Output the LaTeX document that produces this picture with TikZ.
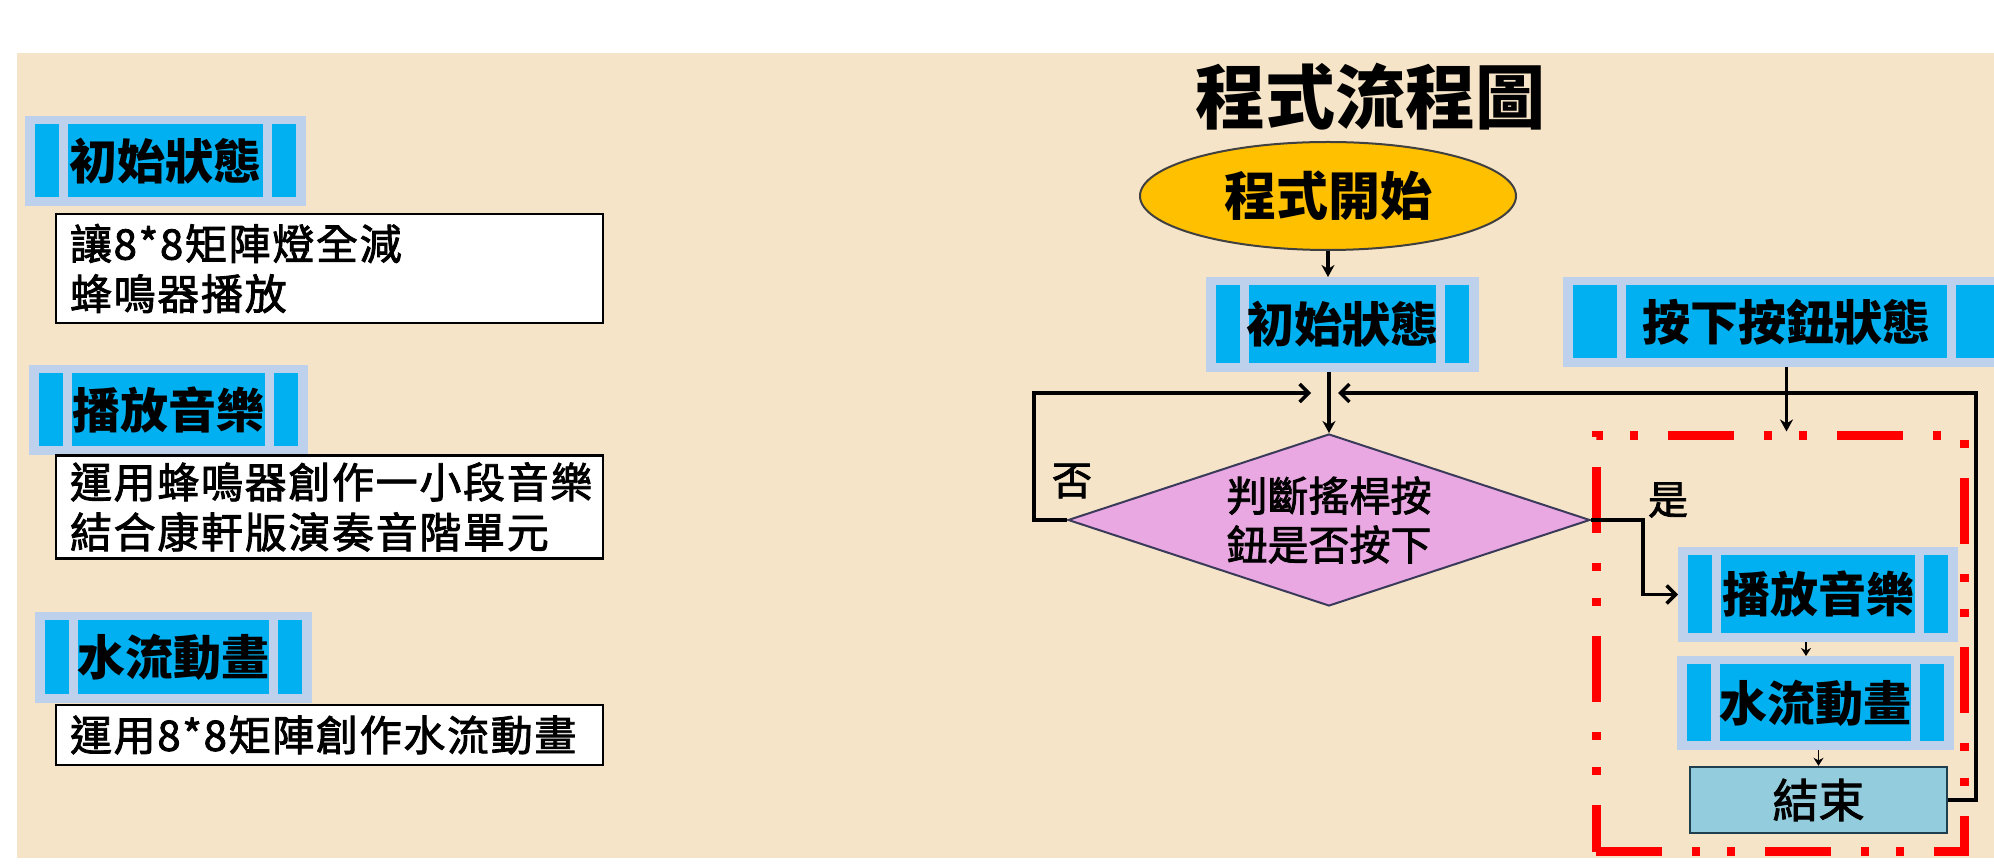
\documentclass[tikz,border=0pt]{standalone}
\usepackage{fontspec}
\setmainfont{Noto Sans CJK TC}
\newfontfamily\medfont{Noto Sans CJK TC}[FakeBold=2]
\newfontfamily\boxfont{Noto Sans CJK TC}[FakeBold=2,LetterSpace=4]
\usetikzlibrary{shapes.geometric,arrows.meta}
\definecolor{wood}{HTML}{F6E4C8}
\definecolor{hdrlight}{HTML}{BDD0EC}
\definecolor{hdrcyan}{HTML}{00B0F0}
\definecolor{diamondfill}{HTML}{E9A8E1}
\definecolor{diamondline}{HTML}{3A3A5A}
\definecolor{startfill}{HTML}{FFC000}
\definecolor{endfill}{HTML}{93CDDD}
\definecolor{endline}{HTML}{1F3F4F}
\definecolor{grpred}{HTML}{FF0000}
\begin{document}
\begin{tikzpicture}[x=0.5pt,y=-0.5pt,
  hdr/.style={rectangle, inner sep=0pt, outer sep=0pt, fill=hdrlight,
    font=\fontsize{24pt}{28pt}\selectfont\bfseries,
    path picture={
      \fill[hdrcyan] ([xshift=5pt,yshift=4.5pt]path picture bounding box.south west) rectangle ([xshift=5pt+#1,yshift=-4pt]path picture bounding box.north west);
      \fill[hdrcyan] ([xshift=9.5pt+#1,yshift=4.5pt]path picture bounding box.south west) rectangle ([xshift=-9.5pt-#1,yshift=-4pt]path picture bounding box.north east);
      \fill[hdrcyan] ([xshift=-5pt-#1,yshift=4.5pt]path picture bounding box.south east) rectangle ([xshift=-5pt,yshift=-4pt]path picture bounding box.north east);
    }},
  hdr/.default=12pt,
  txtbox/.style={rectangle, draw=black, line width=1.4pt, fill=white, inner xsep=7pt, inner ysep=0pt,
    align=left, text width=259.5pt, minimum height=#1, font=\fontsize{21pt}{25pt}\boxfont},
  conn/.style={draw=black, line width=1.75pt},
  tipv/.style={-{Stealth[length=6pt,width=6.5pt]}},
  tiph/.style={-{Straight Barb[length=4.5pt,width=9pt]}},
  smallarr/.style={draw=black, line width=0.8pt, -{Stealth[length=4pt,width=5pt]}},
  lbl/.style={inner sep=0pt, font=\fontsize{20pt}{24pt}\medfont}
]
\useasboundingbox (0,0) rectangle (1994,865);
\fill[white] (0,0) rectangle (1994,865);
\fill[wood] (17,53) rectangle (1994,858);

% left panel
\node[hdr, minimum width=140.5pt, minimum height=45pt] (lh1) at (165.5,161) {初始狀態};
\node[txtbox=54.5pt] (lb1) at (329.5,268.5) {讓8*8矩陣燈全減\\蜂鳴器播放};
\node[hdr, minimum width=139.5pt, minimum height=45pt] (lh2) at (168.5,410) {播放音樂};
\node[txtbox=51.5pt] (lb2) at (329.5,507) {運用蜂鳴器創作一小段音樂\\結合康軒版演奏音階單元};
\node[hdr, minimum width=138.5pt, minimum height=45.5pt] (lh3) at (173.5,657.5) {水流動畫};
\node[txtbox=30pt] (lb3) at (329.5,735) {運用8*8矩陣創作水流動畫};

% flowchart
\node[inner sep=0pt, font=\fontsize{35pt}{40pt}\selectfont\bfseries] (title) at (1370,97) {程式流程圖};
\node[ellipse, draw=black!75, line width=1pt, fill=startfill, minimum width=188pt, minimum height=54pt, inner sep=0pt,
  font=\fontsize{26pt}{30pt}\selectfont\bfseries] (start) at (1328,196) {程式開始};
\node[hdr, minimum width=136.5pt, minimum height=47.5pt] (hinit) at (1342.5,324.5) {初始狀態};
\node[hdr=22pt, minimum width=223.5pt, minimum height=45pt] (hpress) at (1786.5,322) {按下按鈕狀態};

\node[draw=grpred, line width=4.5pt, dash pattern=on 33pt off 15pt on 4pt off 13.5pt on 4pt off 15pt,
  minimum width=184pt, minimum height=208pt, inner sep=0pt] (grp) at (1780,644) {};

\node[diamond, shape aspect=3, draw=diamondline, line width=1pt, fill=diamondfill, minimum width=261pt, minimum height=86pt,
  inner sep=0pt, align=center, font=\fontsize{20.5pt}{24.5pt}\medfont] (diam) at (1329,520) {判斷搖桿按\\鈕是否按下};
\node[hdr, minimum width=140pt, minimum height=47.5pt] (hplay) at (1818,594.5) {播放音樂};
\node[hdr, minimum width=138.5pt, minimum height=47pt] (hwater) at (1815.5,703) {水流動畫};
\node[rectangle, draw=endline, line width=1.2pt, fill=endfill, minimum width=128.5pt, minimum height=33pt, inner sep=0pt,
  font=\fontsize{23pt}{27pt}\medfont] (endn) at (1818.5,800) {結束};

\node[lbl] (no) at (1072,481) {否};
\node[lbl] (yes) at (1668,500) {是};

\coordinate (mL) at (1311,393);
\coordinate (mR) at (1338,393);

% connectors
\draw[conn, tipv] (start.south) -- (start.south |- hinit.north);
\draw[conn, tipv] (diam.north |- hinit.south) -- (diam.north);
\draw[conn, tiph] (diam.west) -- ++(-33,0) |- (mL);
\draw[conn, tiph] (endn.east) -- ++(28,0) |- (mR);
\draw[conn, tiph] (diam.east) -- ++(52,0) |- (hplay.west);
\draw[draw=black, line width=1.5pt, tipv] (hpress.south) -- (hpress.south |- grp.north);
\draw[smallarr] ([xshift=-6pt]hplay.south) -- ([xshift=-6pt]hplay.south |- hwater.north);
\draw[smallarr] (endn.north |- hwater.south) -- (endn.north);
\end{tikzpicture}
\end{document}
